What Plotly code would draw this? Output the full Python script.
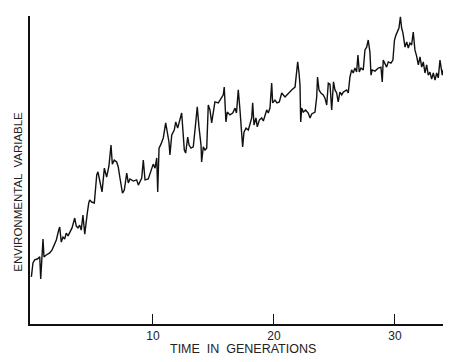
import plotly.graph_objects as go

# Time in generations
time_gen = [
    -0.05, 0.08, 0.22, 0.44, 0.64, 0.72, 0.91, 0.99, 1.18, 1.46,
    1.65, 1.88, 2.01, 2.21, 2.29, 2.42, 2.56, 2.70, 2.83, 2.98,
    3.12, 3.31, 3.53, 3.66, 3.80, 3.94, 4.07, 4.21, 4.36, 4.49,
    4.57, 4.69, 4.77, 4.93, 5.15, 5.35, 5.45, 5.62, 5.79, 5.98,
    6.17, 6.36, 6.53, 6.64, 6.80, 7.00, 7.13, 7.27, 7.40, 7.48,
    7.63, 7.83, 7.96, 8.10, 8.37, 8.65, 8.79, 9.07, 9.20, 9.34,
    9.61, 9.89, 10.02, 10.17, 10.31, 10.39, 10.50, 10.66, 10.85, 11.05,
    11.21, 11.32, 11.40, 11.55, 11.76, 11.88, 12.04, 12.23, 12.37, 12.59,
    12.70, 12.87, 12.98, 13.14, 13.33, 13.53, 13.66, 13.80, 13.97, 14.02,
    14.16, 14.30, 14.44, 14.57, 14.71, 14.85, 14.98, 15.12, 15.40, 15.62,
    15.81, 15.89, 15.95, 16.03, 16.14, 16.36, 16.59, 16.78, 16.90, 17.05,
    17.19, 17.33, 17.41, 17.52, 17.69, 17.88, 18.02, 18.16, 18.24, 18.35,
    18.51, 18.62, 18.79, 18.98, 19.12, 19.26, 19.40, 19.53, 19.67, 19.81,
    19.89, 20.08, 20.25, 20.44, 20.64, 20.91, 21.18, 21.46, 21.74, 21.88,
    21.96, 22.07, 22.15, 22.21, 22.29, 22.42, 22.62, 22.83, 22.98, 23.12,
    23.39, 23.53, 23.60, 23.72, 23.88, 24.07, 24.21, 24.36, 24.49, 24.63,
    24.77, 24.92, 25.04, 25.18, 25.31, 25.45, 25.60, 25.73, 26.01, 26.14,
    26.28, 26.42, 26.55, 26.69, 26.83, 26.94, 27.05, 27.19, 27.38, 27.52,
    27.66, 27.79, 27.93, 28.02, 28.12, 28.35, 28.62, 28.84, 28.95, 29.03,
    29.17, 29.31, 29.45, 29.67, 29.83, 29.96, 30.08, 30.22, 30.33, 30.45,
    30.55, 30.66, 30.83, 30.97, 31.10, 31.24, 31.38, 31.51, 31.65, 31.79,
    31.93, 32.07, 32.21, 32.34, 32.48, 32.62, 32.75, 32.89, 33.03, 33.17,
    33.31, 33.45, 33.58, 33.72, 33.80, 33.91, 33.99,
]

# Environmental variable (arbitrary units, 0-100)
env_value = [
    15.3, 19.8, 20.8, 21.1, 21.8, 14.6, 27.6, 21.8, 22.4, 23.1,
    24.0, 26.3, 27.3, 30.5, 31.5, 26.6, 28.2, 27.6, 29.5, 28.6,
    29.9, 31.2, 34.4, 31.8, 31.2, 32.1, 30.5, 35.4, 29.2, 34.7,
    36.0, 39.3, 40.3, 39.6, 39.3, 48.4, 49.4, 46.1, 42.9, 50.6,
    47.7, 51.3, 58.1, 51.9, 53.2, 52.6, 51.0, 47.4, 43.5, 42.5,
    43.5, 49.0, 45.8, 47.1, 46.4, 46.8, 45.1, 47.4, 53.2, 46.8,
    47.1, 50.0, 51.9, 50.6, 53.9, 42.9, 57.1, 58.4, 60.4, 65.3,
    61.4, 59.1, 54.9, 61.4, 63.0, 65.6, 63.6, 66.9, 68.5, 56.5,
    55.5, 60.7, 58.1, 57.1, 57.5, 65.3, 70.5, 64.0, 58.1, 52.6,
    57.5, 56.5, 57.1, 71.1, 69.5, 65.3, 68.8, 72.1, 71.8, 73.1,
    74.4, 76.9, 69.5, 65.6, 68.8, 67.9, 68.5, 70.1, 68.5, 76.0,
    69.5, 61.4, 57.5, 62.3, 63.6, 63.0, 65.3, 66.9, 71.8, 64.6,
    66.9, 64.0, 66.2, 66.9, 65.9, 67.9, 69.5, 68.5, 70.1, 78.2,
    71.8, 72.7, 71.8, 72.1, 75.0, 73.7, 75.0, 76.0, 76.9, 81.5,
    85.1, 81.5, 77.6, 65.6, 70.1, 68.8, 69.5, 68.5, 66.9, 68.2,
    68.8, 73.7, 80.2, 76.0, 75.0, 74.4, 73.4, 71.1, 78.2, 77.9,
    69.5, 78.6, 76.0, 75.0, 72.1, 75.3, 74.4, 75.3, 76.0, 75.0,
    80.2, 82.5, 81.5, 83.1, 81.8, 87.3, 81.8, 83.1, 82.5, 89.0,
    89.9, 92.2, 88.3, 80.8, 82.5, 82.1, 83.1, 83.4, 78.6, 85.7,
    84.7, 83.4, 85.1, 84.7, 85.7, 92.2, 93.8, 95.5, 96.1, 99.7,
    96.1, 94.5, 89.9, 91.6, 89.6, 91.2, 90.6, 94.8, 89.0, 87.0,
    84.1, 86.7, 83.4, 85.1, 81.5, 84.1, 80.8, 81.8, 79.5, 81.5,
    79.2, 81.5, 79.9, 85.7, 83.1, 80.8, 82.5,
]

x_ticks = [10, 20, 30]
x_tick_labels = ["10", "20", "30"]

fig = go.Figure()
fig.add_trace(go.Scatter(
    x=time_gen, y=env_value, mode="lines",
    line=dict(color="#111111", width=1.4),
    hoverinfo="skip", showlegend=False,
))

font_family = "Liberation Sans, Arial, sans-serif"

fig.update_layout(
    width=452, height=362,
    margin=dict(l=30, r=9, t=16, b=38),
    paper_bgcolor="white", plot_bgcolor="white",
    font=dict(family=font_family, size=11, color="#222222"),
    xaxis=dict(
        range=[-0.165, 33.97], showgrid=False, zeroline=False,
        showline=True, linecolor="#111111", linewidth=1.5,
        ticks="inside", ticklen=10, tickwidth=1.2, tickcolor="#111111",
        tickvals=x_ticks, ticktext=x_tick_labels,
        tickfont=dict(size=12),
    ),
    yaxis=dict(
        range=[0, 100], showgrid=False, zeroline=False,
        showline=True, linecolor="#111111", linewidth=1.5,
        showticklabels=False, ticks="",
    ),
    annotations=[
        dict(text="TIME  IN  GENERATIONS", xref="paper", yref="paper",
             x=0.516, y=-0.082, xanchor="center", yanchor="middle",
             showarrow=False, font=dict(size=12.5, color="#222222")),
        dict(text="ENVIRONMENTAL  VARIABLE", xref="paper", yref="paper",
             x=-0.031, y=0.43, xanchor="center", yanchor="middle",
             textangle=-90, showarrow=False,
             font=dict(size=11.5, color="#222222")),
    ],
)

fig.write_html("out.html")
